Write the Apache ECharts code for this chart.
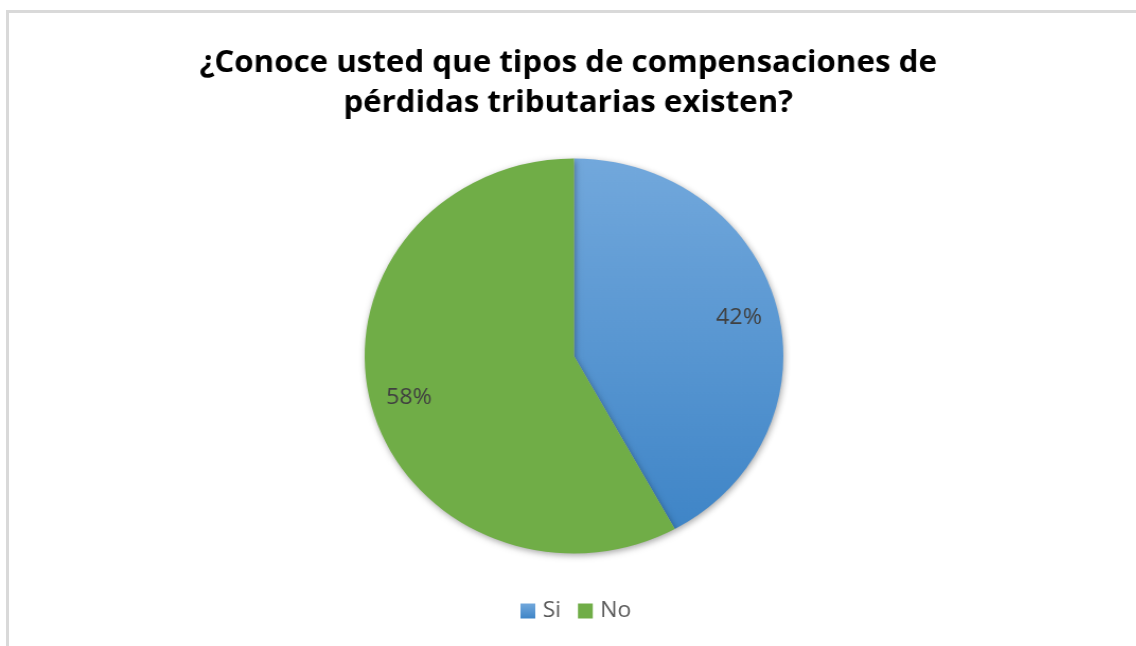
<!DOCTYPE html>
<html>
<head>
<meta charset="utf-8">
<script src="https://cdn.jsdelivr.net/npm/echarts@6/dist/echarts.min.js"></script>
<style>
	html, body { margin: 0; padding: 0; background: #fff; overflow: hidden; }
	#frame {
		position: absolute; left: 6px; top: 10px; right: 0; bottom: 0;
		border-top: 3px solid #d9d9d9; border-left: 3px solid #d9d9d9;
	}
	/* the original picture is slightly stretched sideways, so stretch the chart the same way */
	#chart {
		position: absolute; left: 0; top: 0; width: 1072px; height: 646px;
		transform: scaleX(1.06); transform-origin: 0 0;
	}
</style>
</head>
<body>
<div id="frame"></div>
<div id="chart"></div>
<script>
// answers to the survey question
var categories = ["Si", "No"];
var percentages = [42, 58];
var titleText = "¿Conoce usted que tipos de compensaciones de\npérdidas tributarias existen?";

var colors = [
	new echarts.graphic.LinearGradient(0, 0, 0, 1, [
		{offset: 0, color: "#72a8dc"},
		{offset: 1, color: "#3f85c7"}
	]),
	"#70ad47"
];

var pieData = categories.map(function(name, i) {
	return {name: name, value: percentages[i]};
});

var chart = echarts.init(document.getElementById("chart"));
var option = {
	animation: false,
	title: {
		text: titleText,
		left: "center",
		top: 44,
		padding: 0,
		textStyle: {
			fontFamily: "Open Sans",
			fontWeight: "bold",
			fontSize: 29.5,
			lineHeight: 40,
			color: "#000"
		}
	},
	legend: {
		top: 600,
		left: 491,
		padding: 0,
		itemWidth: 14,
		itemHeight: 15,
		itemGap: 16,
		icon: "rect",
		data: categories,
		itemStyle: {
			borderWidth: 0,
			shadowBlur: 0,
			shadowOffsetX: 0,
			shadowOffsetY: 0
		},
		textStyle: {
			fontFamily: "Open Sans",
			fontSize: 21.5,
			color: "#595959",
			padding: [0, 0, 0, 2]
		}
	},
	color: ["#5b9bd5", "#70ad47"],
	series: [
		{
			// the slices
			type: "pie",
			center: [541.5, 356],
			radius: [0, 197.5],
			startAngle: 90,
			clockwise: true,
			silent: true,
			label: {show: false},
			labelLine: {show: false},
			itemStyle: {
				borderWidth: 0,
				shadowBlur: 6,
				shadowColor: "rgba(0,0,0,0.35)",
				shadowOffsetX: 1,
				shadowOffsetY: 2
			},
			data: pieData.map(function(d, i) {
				return {name: d.name, value: d.value, itemStyle: {color: colors[i]}};
			})
		},
		{
			// transparent ring only used to place the percentage labels further out
			type: "pie",
			center: [541.5, 358],
			radius: [118, 197.5],
			startAngle: 90,
			clockwise: true,
			silent: true,
			legendHoverLink: false,
			itemStyle: {color: "rgba(0,0,0,0)", borderWidth: 0},
			label: {
				show: true,
				position: "inside",
				formatter: "{d}%",
				fontFamily: "Open Sans",
				fontSize: 22,
				color: "#404040"
			},
			labelLine: {show: false},
			data: pieData
		}
	]
};
chart.setOption(option);
</script>
</body>
</html>
